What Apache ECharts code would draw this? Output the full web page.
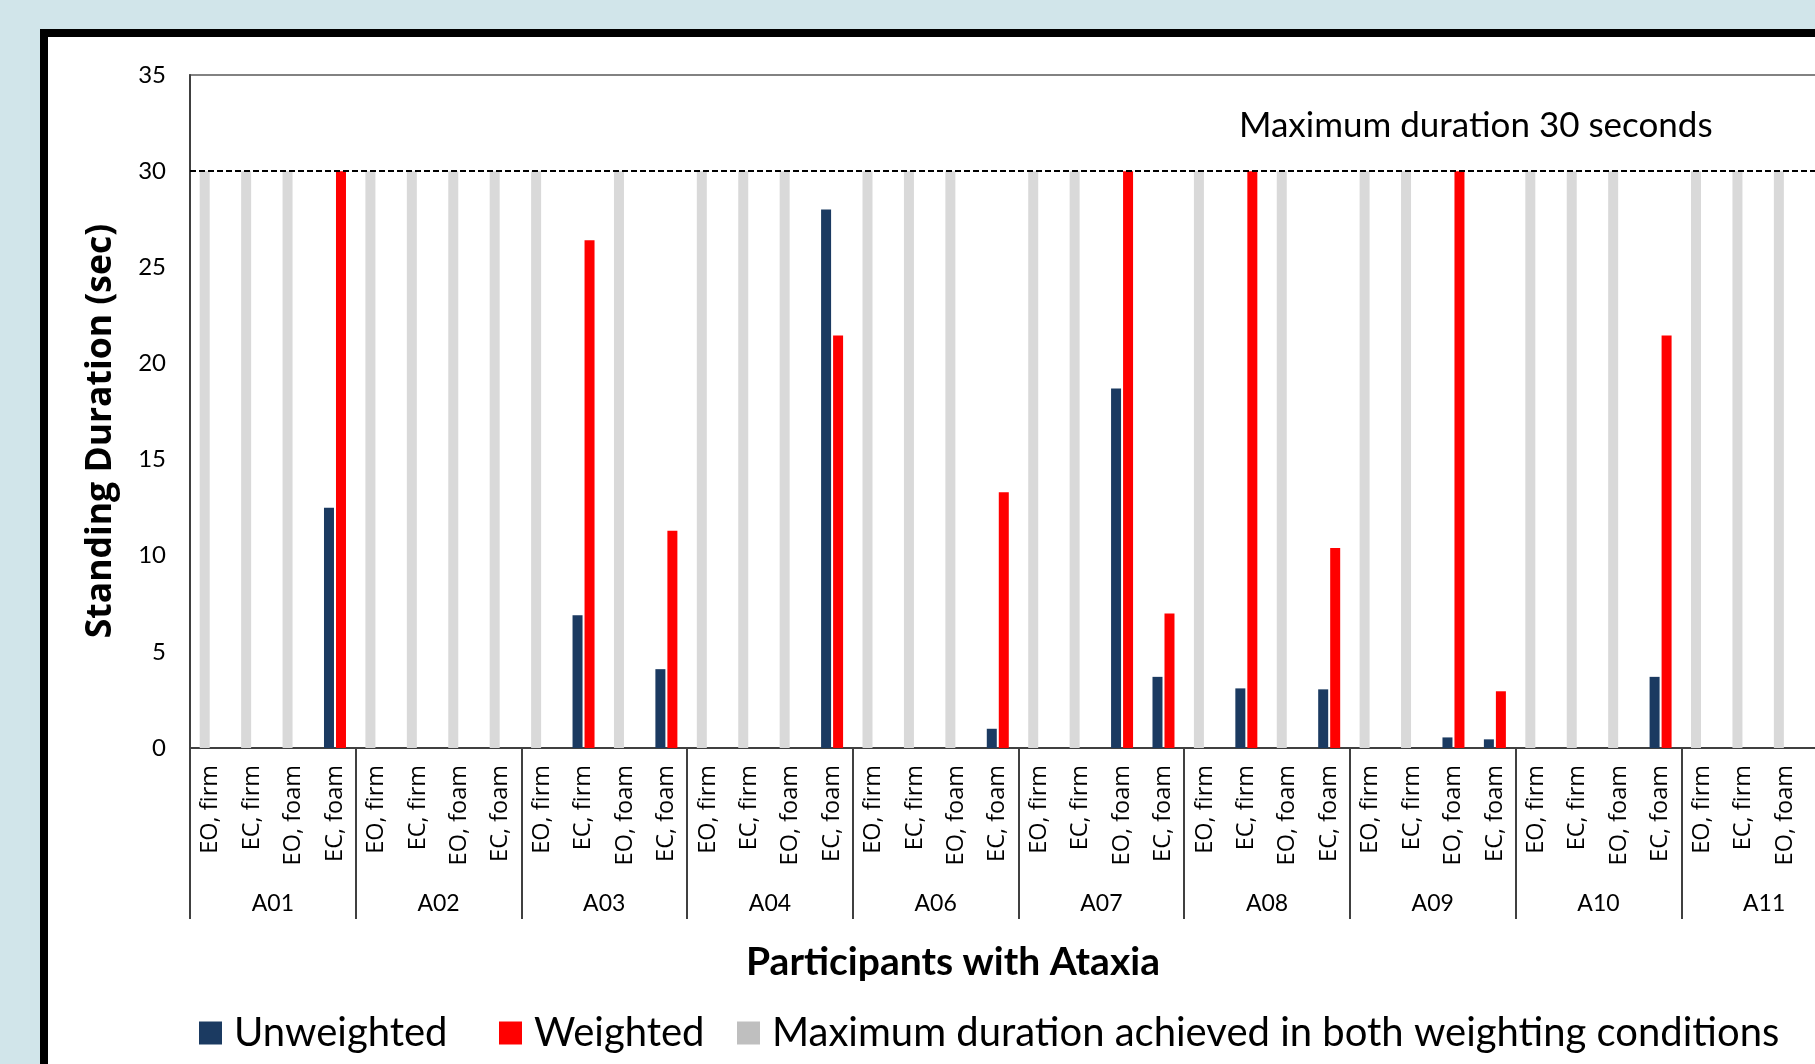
<!DOCTYPE html>
<html>
<head>
<meta charset="utf-8">
<script src="https://cdn.jsdelivr.net/npm/echarts@6/dist/echarts.min.js"></script>
<style>
html,body{margin:0;padding:0;background:#d1e5ea;overflow:hidden;width:1815px;height:1064px;}
#chart{width:1850px;height:1064px;}
</style>
</head>
<body>
<div id="chart"></div>
<script>
// ---- data ----
var groups = ['A01','A02','A03','A04','A06','A07','A08','A09','A10','A11'];
var conditions = ['EO, firm','EC, firm','EO, foam','EC, foam'];
var yTicks = [0,5,10,15,20,25,30,35];
var maxDuration = 30;
// per participant, values for [EO firm, EC firm, EO foam, EC foam]; '-' = no bar
var unweighted = {
  A01: ['-','-','-',12.5],
  A02: ['-','-','-','-'],
  A03: ['-',6.9,'-',4.1],
  A04: ['-','-','-',28.0],
  A06: ['-','-','-',1.0],
  A07: ['-','-',18.7,3.7],
  A08: ['-',3.1,'-',3.05],
  A09: ['-','-',0.55,0.45],
  A10: ['-','-','-',3.7],
  A11: ['-','-','-','-']
};
var weighted = {
  A01: ['-','-','-',30],
  A02: ['-','-','-','-'],
  A03: ['-',26.4,'-',11.3],
  A04: ['-','-','-',21.45],
  A06: ['-','-','-',13.3],
  A07: ['-','-',30,7.0],
  A08: ['-',30,'-',10.4],
  A09: ['-','-',30,2.95],
  A10: ['-','-','-',21.45],
  A11: ['-','-','-','-']
};
var maxBoth = {
  A01: [30,30,30,'-'],
  A02: [30,30,30,30],
  A03: [30,'-',30,'-'],
  A04: [30,30,30,'-'],
  A06: [30,30,30,'-'],
  A07: [30,30,'-','-'],
  A08: [30,'-',30,'-'],
  A09: [30,30,'-','-'],
  A10: [30,30,30,'-'],
  A11: [30,30,30,30]
};
var seriesNames = ['Unweighted','Weighted','Maximum duration achieved in both weighting conditions'];
var annotationText = 'Maximum duration 30 seconds';
var xTitle = 'Participants with Ataxia';
var yTitle = 'Standing Duration (sec)';

// ---- build ----
var cats = [], uData = [], wData = [], mData = [];
groups.forEach(function(g){
  conditions.forEach(function(c, i){
    cats.push(g + '|' + c);
    uData.push(unweighted[g][i]);
    wData.push(weighted[g][i]);
    mData.push(maxBoth[g][i]);
  });
});

var NAVY = '#1b3a61', RED = '#ff0000', GRAY = '#d9d9d9';
var axisCol = '#404040';

var chart = echarts.init(document.getElementById('chart'), null, {renderer:'canvas'});
var legendCommon = {
  orient:'horizontal', padding:0, itemWidth:23, itemHeight:23, icon:'rect',
  top:1013, selectedMode:false,
  textStyle:{fontFamily:'Lato', fontSize:40, color:'#000', padding:[0,0,0,7]}
};
chart.setOption({
  backgroundColor:'#d1e5ea',
  animation:false,
  graphic:[
    {type:'rect', z:-10, shape:{x:44, y:33, width:2200, height:2200},
     style:{fill:'#ffffff', stroke:'#000000', lineWidth:8}},
    {type:'text', x:1239, y:126, z:10,
     style:{text:annotationText, fontFamily:'Lato', fontSize:35, fill:'#000', verticalAlign:'middle', align:'left'}},
    {type:'text', x:953, y:962, z:10,
     style:{text:xTitle, fontFamily:'Lato', fontWeight:'bold', fontSize:39, fill:'#000', verticalAlign:'middle', align:'center'}},
    {type:'text', x:101, y:431, z:10, rotation:Math.PI/2,
     style:{text:yTitle, fontFamily:'Open Sans', fontWeight:'bold', fontSize:35.5, fill:'#000', verticalAlign:'middle', align:'center'}}
  ],
  legend:[
    Object.assign({}, legendCommon, {left:199, data:[{name:seriesNames[0]}]}),
    Object.assign({}, legendCommon, {left:499, data:[{name:seriesNames[1]}]}),
    Object.assign({}, legendCommon, {left:737, data:[{name:seriesNames[2], itemStyle:{color:'#bfbfbf'}}]})
  ],
  grid:{left:190, top:75, right:3, bottom:316, show:true, borderColor:'#595959', borderWidth:1.5, backgroundColor:'transparent'},
  xAxis:[
    {type:'category', data:cats, boundaryGap:true, position:'bottom',
     axisLine:{show:true, lineStyle:{color:axisCol, width:2}},
     axisTick:{show:false},
     axisLabel:{interval:0, rotate:90, margin:17, fontFamily:'Open Sans', fontSize:23.5, color:'#000',
       formatter:function(v){return v.split('|')[1];}}
    },
    {type:'category', data:groups, boundaryGap:true, position:'bottom', offset:0,
     axisLine:{show:false},
     axisTick:{show:true, interval:0, length:171, lineStyle:{color:axisCol, width:2}},
     axisLabel:{interval:0, margin:144, fontFamily:'Lato', fontSize:23, color:'#000'}
    }
  ],
  yAxis:{type:'value', min:yTicks[0], max:yTicks[yTicks.length-1], interval:5,
    axisLine:{show:true, lineStyle:{color:axisCol, width:2}},
    axisTick:{show:false}, splitLine:{show:false},
    axisLabel:{margin:24, fontFamily:'Lato', fontSize:24, color:'#000'}
  },
  series:[
    {name:seriesNames[0], type:'bar', stack:'u', xAxisIndex:0, data:uData, barWidth:10, barGap:'20%',
     itemStyle:{color:NAVY}},
    {name:seriesNames[1], type:'bar', xAxisIndex:0, data:wData, barWidth:10, barGap:'20%',
     itemStyle:{color:RED},
     markLine:{silent:true, symbol:'none', label:{show:false},
       lineStyle:{color:'#000', type:[6,3], width:2},
       data:[{yAxis:maxDuration}]}},
    {name:seriesNames[2], type:'bar', stack:'u', xAxisIndex:0, data:mData, barWidth:10, barGap:'20%',
     itemStyle:{color:GRAY}}
  ]
});
</script>
</body>
</html>
